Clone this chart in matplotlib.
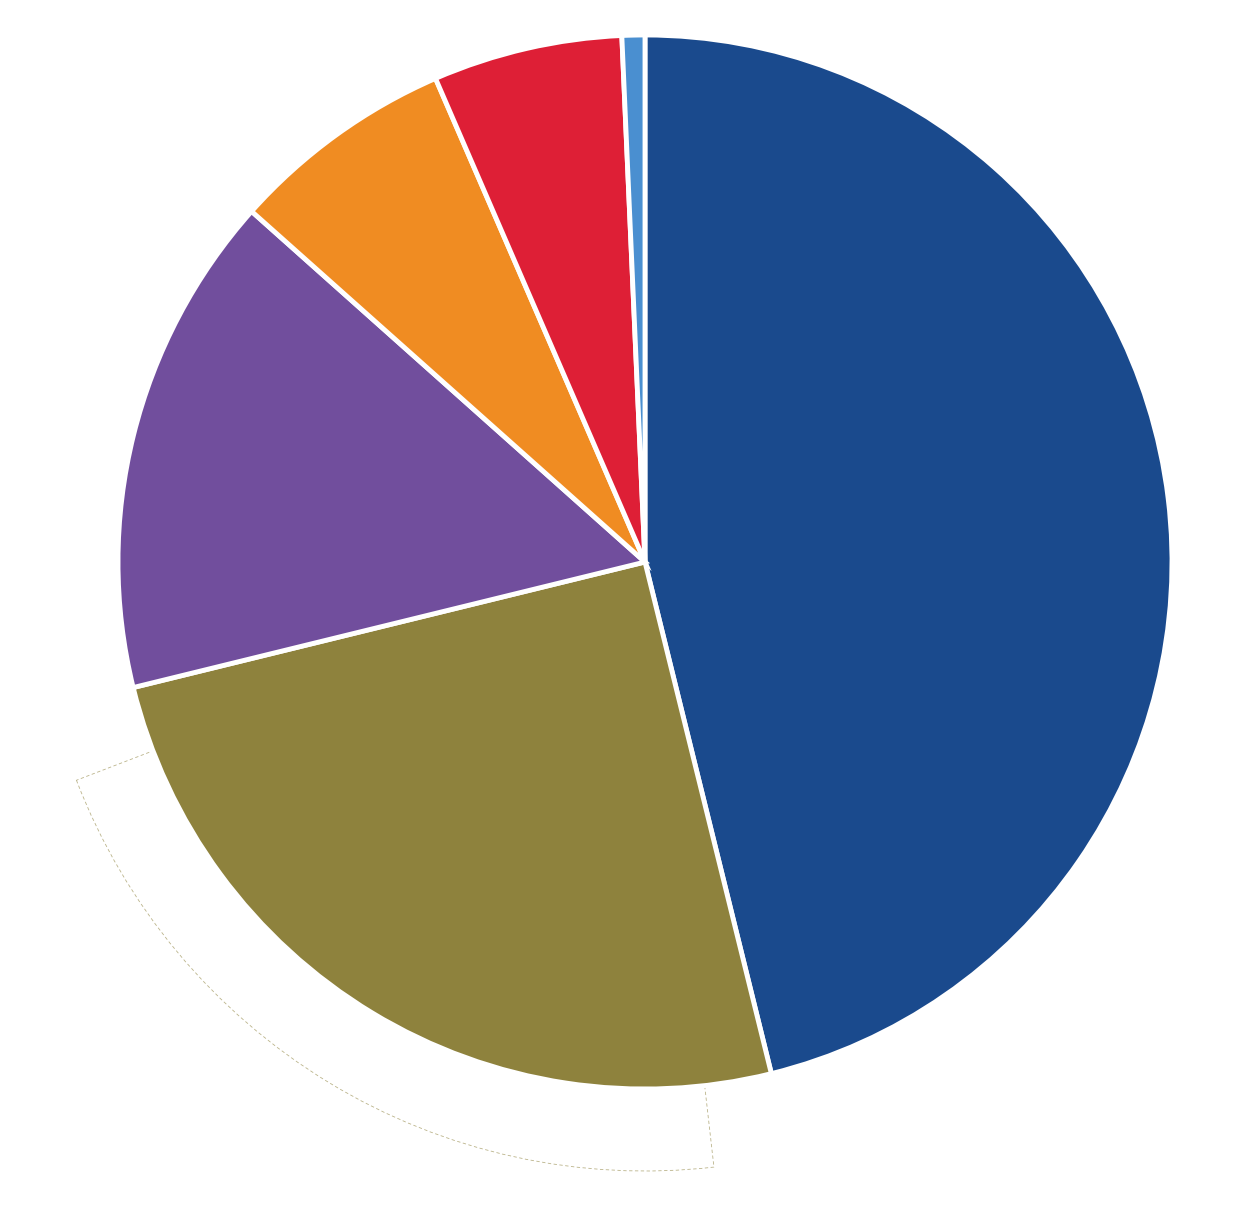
import matplotlib
matplotlib.use("Agg")
import matplotlib.pyplot as plt
from matplotlib.patches import Wedge

# slice shares, clockwise from 12 o'clock
shares = [46.1, 25.0, 15.4, 6.9, 5.8, 0.7]
colors = ["#1A4A8D", "#8E823D", "#714E9D", "#F08C22", "#DE1F36", "#4A8FD0"]

W, H = 1240, 1205
cx, cy, r = 645, H - 562, 527

fig = plt.figure(figsize=(W / 100, H / 100), dpi=100)
ax = fig.add_axes([0, 0, 1, 1])

# faint dashed outline of the ring outside the olive slice (sits behind the pie)
ghost = Wedge((cx, cy), 609, -159, -83.5,
              fill=False, edgecolor="#8E823D", linewidth=0.6,
              linestyle=(0, (4, 3)), alpha=0.6, zorder=0)
ax.add_patch(ghost)

ax.pie(shares, colors=colors, startangle=90, counterclock=False,
       center=(cx, cy), radius=r,
       wedgeprops=dict(edgecolor="white", linewidth=3.5, zorder=2))

ax.set_xlim(0, W)
ax.set_ylim(0, H)
ax.set_aspect("equal")
ax.axis("off")

fig.savefig("out.png", dpi=100, facecolor="white")
